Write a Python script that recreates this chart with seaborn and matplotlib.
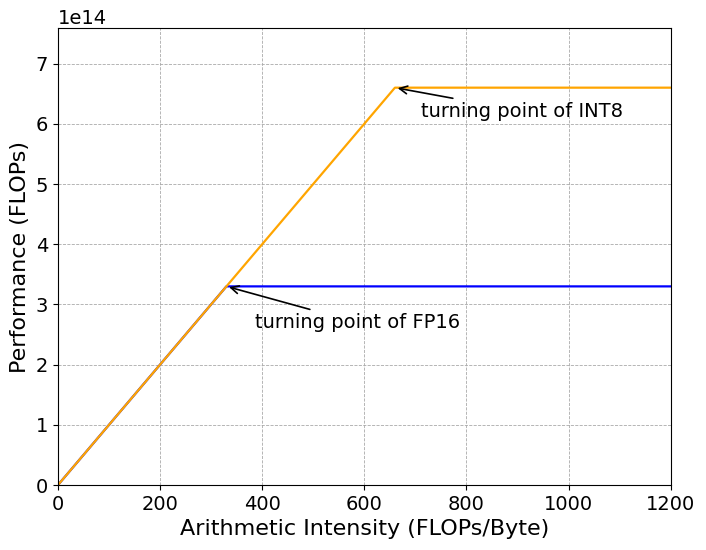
import matplotlib
matplotlib.use("Agg")
import matplotlib.pyplot as plt
import seaborn as sns
import numpy as np
import pandas as pd

# Data (roofline points)
fp16_intensity = [0, 330, 1200]
fp16_perf = [0, 3.3e14, 3.3e14]
int8_intensity = [0, 660, 1200]
int8_perf = [0, 6.6e14, 6.6e14]

fp16_turn = (330, 3.3e14)
int8_turn = (660, 6.6e14)
fp16_text_pos = (385, 2.61e14)
int8_text_pos = (712, 6.12e14)

fig = plt.figure(figsize=(7.06, 5.5), dpi=100)
ax = fig.add_axes([0.082, 0.118, 0.868, 0.831])

df16 = pd.DataFrame({"x": fp16_intensity, "y": fp16_perf})
df8 = pd.DataFrame({"x": int8_intensity, "y": int8_perf})
sns.lineplot(data=df16, x="x", y="y", ax=ax, color="blue", linewidth=1.6, estimator=None, sort=False)
sns.lineplot(data=df8, x="x", y="y", ax=ax, color="orange", linewidth=1.6, estimator=None, sort=False)

ax.annotate("turning point of FP16", xy=fp16_turn, xytext=fp16_text_pos,
            arrowprops=dict(arrowstyle="->", color="black", lw=1.2), fontsize=14)
ax.annotate("turning point of INT8", xy=int8_turn, xytext=int8_text_pos,
            arrowprops=dict(arrowstyle="->", color="black", lw=1.2), fontsize=14)

ax.set_xlim(0, 1200)
ax.set_ylim(0, 6.6e14 * 1.15)
ax.set_xlabel("Arithmetic Intensity (FLOPs/Byte)", fontsize=16)
ax.set_ylabel("Performance (FLOPs)", fontsize=16)
ax.tick_params(labelsize=14)
ax.yaxis.get_offset_text().set_fontsize(14)
ax.grid(True, linestyle="--", linewidth=0.6, color="#aaaaaa")

fig.savefig("out.png", dpi=100)
